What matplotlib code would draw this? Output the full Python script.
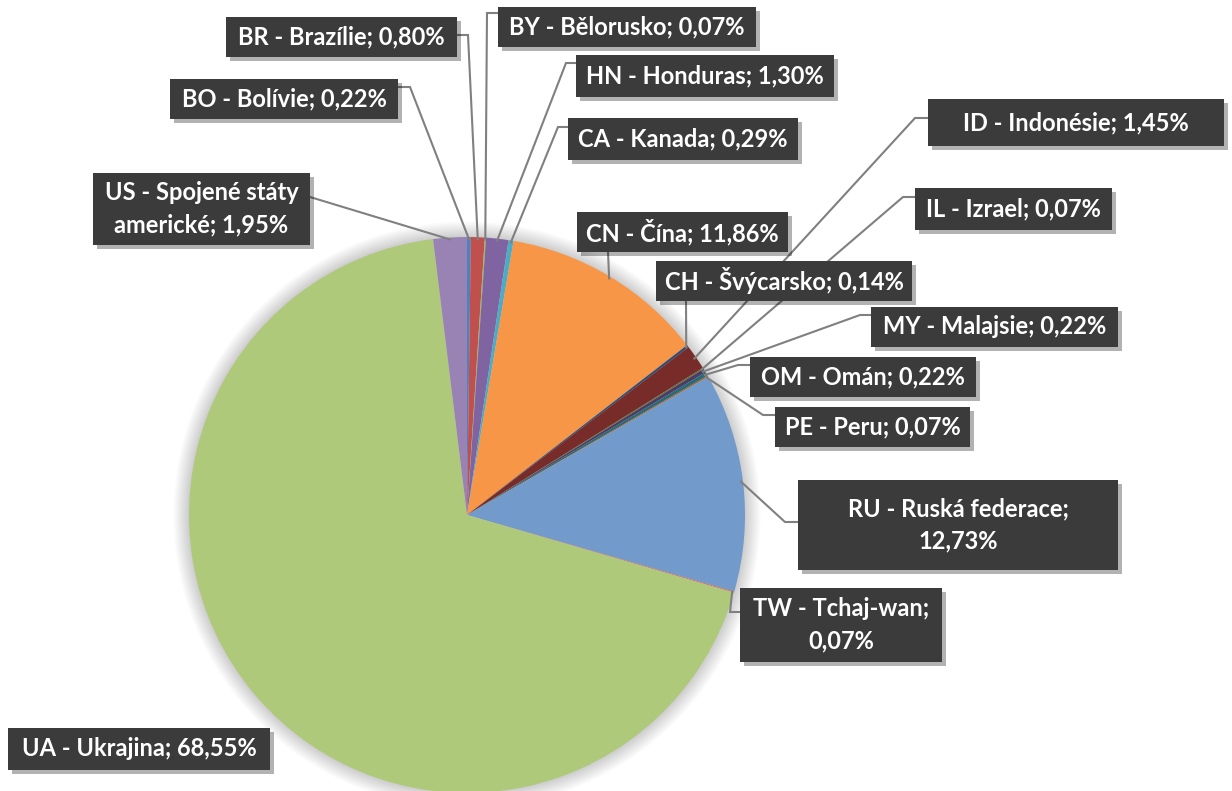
import numpy as np
import matplotlib
matplotlib.use("Agg")
import matplotlib.pyplot as plt
import matplotlib.patheffects as pe
from matplotlib.patches import Circle, Rectangle

# Data (clockwise from 12 o'clock)
codes = ["BO", "BR", "BY", "HN", "CA", "CN", "CH", "ID", "IL", "MY", "OM", "PE", "RU", "TW", "UA", "US"]
names = ["Bolívie", "Brazílie", "Bělorusko", "Honduras", "Kanada", "Čína", "Švýcarsko", "Indonésie",
         "Izrael", "Malajsie", "Omán", "Peru", "Ruská federace", "Tchaj-wan", "Ukrajina",
         "Spojené státy americké"]
shares = [0.22, 0.80, 0.07, 1.30, 0.29, 11.86, 0.14, 1.45, 0.07, 0.22, 0.22, 0.07, 12.73, 0.07, 68.55, 1.95]

colors = ["#4F81BD", "#C0504D", "#9BBB59", "#8064A2", "#4BACC6", "#F79646",
          "#2C4D75", "#772C2A", "#5F7530", "#4D3B62", "#276A7C", "#B65708",
          "#729ACA", "#CD7371", "#AFC97A", "#9983B5"]

W, H = 1232, 791
CX, CY, R = 467, 515, 278

# label layout in pixel coords: box (x0, y0, x1, y1), leader anchor, optional elbow
layout = {
    "BO": ((170, 79, 398, 119), (398, 87), (410, 87)),
    "BR": ((226, 17, 457, 57), (457, 35), (468, 35)),
    "BY": ((498, 7, 756, 47), (498, 13), (487, 13)),
    "HN": ((576, 55, 834, 97), (576, 63), (566, 63)),
    "CA": ((568, 118, 798, 160), (568, 127), (558, 127)),
    "CN": ((577, 212, 788, 252), (608, 252), None),
    "CH": ((656, 261, 912, 301), (686, 301), None),
    "ID": ((928, 99, 1224, 146), (928, 118), (915, 118)),
    "IL": ((915, 188, 1112, 230), (915, 197), (903, 197)),
    "MY": ((871, 307, 1118, 347), (871, 315), (860, 315)),
    "OM": ((750, 357, 976, 397), (750, 365), (738, 365)),
    "PE": ((775, 407, 970, 447), (775, 415), (763, 415)),
    "RU": ((798, 480, 1118, 570), (798, 522), (785, 522)),
    "TW": ((740, 588, 942, 662), (740, 612), (730, 612)),
    "UA": ((8, 728, 270, 770), None, None),
    "US": ((93, 173, 310, 245), (310, 197), None),
}
line_breaks = {"US": ("státy ", "státy\n"), "RU": ("; ", ";\n"), "TW": ("; ", ";\n")}

fig = plt.figure(figsize=(W / 100, H / 100), dpi=100)
ax = fig.add_axes([0, 0, 1, 1])


def Y(py):
    return H - py


# soft glow around the pie
for k in range(10):
    ax.add_patch(Circle((CX, Y(CY)), R + 1 + k * 1.6, color="#000000", alpha=0.018, lw=0, zorder=0))

ax.pie(shares, colors=colors, startangle=90, counterclock=False,
       center=(CX, Y(CY)), radius=R, wedgeprops=dict(linewidth=0), frame=True)
ax.set_xlim(0, W)
ax.set_ylim(0, H)
ax.axis("off")

cum = np.cumsum([0] + shares[:-1])
shadow = [pe.SimplePatchShadow(offset=(3, -3), shadow_rgbFace="#000000", alpha=0.3), pe.Normal()]
for i, code in enumerate(codes):
    label = f"{code} - {names[i]}; {shares[i]:.2f}%".replace(".", ",")
    if code in line_breaks:
        a, b = line_breaks[code]
        label = label.replace(a, b, 1)
    (x0, y0, x1, y1), anchor, elbow = layout[code]

    if anchor is not None:
        theta = np.deg2rad(90 - 360 * (cum[i] + shares[i] / 2) / 100)
        ex = CX + (R - 2) * np.cos(theta)
        ey = Y(CY) + (R - 2) * np.sin(theta)
        pts = [anchor] + ([elbow] if elbow else [])
        xs = [p[0] for p in pts] + [ex]
        ys = [Y(p[1]) for p in pts] + [ey]
        ax.plot(xs, ys, color="#808080", lw=1.5, zorder=3, solid_joinstyle="miter")

    box = Rectangle((x0, Y(y1)), x1 - x0, y1 - y0, fc="#3B3B3B", ec="none", zorder=4)
    box.set_path_effects(shadow)
    ax.add_patch(box)
    ax.text((x0 + x1) / 2, Y((y0 + y1) / 2), label, color="white", zorder=5,
            ha="center", va="center", multialignment="center", fontsize=17,
            fontweight="bold", family=["Lato", "DejaVu Sans"], linespacing=1.5)

fig.savefig("out.png", dpi=100)
